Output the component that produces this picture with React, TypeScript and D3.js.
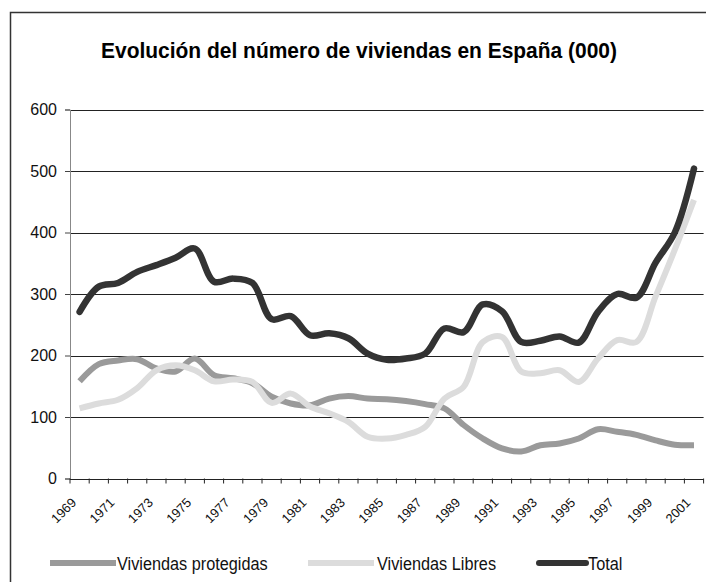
import React, { useEffect, useRef } from "react";
import * as d3 from "d3";

const years = [
  1969, 1970, 1971, 1972, 1973, 1974, 1975, 1976, 1977, 1978, 1979, 1980,
  1981, 1982, 1983, 1984, 1985, 1986, 1987, 1988, 1989, 1990, 1991, 1992,
  1993, 1994, 1995, 1996, 1997, 1998, 1999, 2000, 2001,
];
const protegidas = [
  158, 186, 192, 194, 179, 174, 195, 168, 163, 155, 133, 122, 119, 130, 134,
  130, 129, 126, 121, 114, 87, 65, 49, 44, 54, 57, 65, 80, 76, 71, 62, 55, 54,
];
const libres = [
  114, 122, 128, 147, 176, 184, 176, 158, 161, 157, 123, 138, 117, 106, 92, 68,
  65, 71, 84, 130, 149, 222, 230, 174, 171, 176, 157, 195, 225, 222, 296, 372,
  453,
];
const total = [
  271, 312, 318, 336, 347, 359, 374, 320, 325, 318, 259, 264, 233, 236, 228,
  203, 193, 195, 203, 244, 238, 283, 272, 222, 224, 231, 221, 271, 300, 294,
  351, 400, 504,
];
const yTicks = [0, 100, 200, 300, 400, 500, 600];

const series = [
  { name: "Viviendas protegidas", values: protegidas, color: "#9a9a9a", width: 6 },
  { name: "Viviendas Libres", values: libres, color: "#dcdcdc", width: 6 },
  { name: "Total", values: total, color: "#333333", width: 6.5 },
];

const font = "Liberation Sans, Arial, sans-serif";

const App = () => {
  const ref = useRef<SVGSVGElement>(null);

  useEffect(() => {
    const width = 706;
    const height = 582;
    const left = 70;
    const right = 703.6;
    const top = 109.5;
    const bottom = 478.5;

    const svg = d3.select(ref.current).attr("width", width).attr("height", height);
    svg.selectAll("*").remove();

    const x = d3.scaleBand<number>().domain(years).range([left, right]).padding(0);
    const cx = (yr: number) => (x(yr) as number) + x.bandwidth() / 2;
    const y = d3.scaleLinear().domain([0, 600]).range([bottom, top]);

    // frame
    svg.append("rect")
      .attr("x", 10.5).attr("y", 12.5)
      .attr("width", 760).attr("height", 640)
      .attr("fill", "#fff").attr("stroke", "#333").attr("stroke-width", 1.5);

    svg.append("text")
      .attr("x", 101).attr("y", 58)
      .attr("font-family", font)
      .attr("font-weight", "bold")
      .attr("font-size", 22)
      .attr("textLength", 516)
      .attr("lengthAdjust", "spacingAndGlyphs")
      .text("Evolución del número de viviendas en España (000)");

    // gridlines
    svg.append("g")
      .selectAll("line")
      .data(yTicks.filter((t) => t > 0))
      .enter()
      .append("line")
      .attr("x1", left).attr("x2", right)
      .attr("y1", (d) => Math.round(y(d)) + 0.5)
      .attr("y2", (d) => Math.round(y(d)) + 0.5)
      .attr("stroke", "#222").attr("stroke-width", 1);

    // y axis
    const yAxis = svg.append("g")
      .attr("transform", `translate(${left},0)`)
      .call(d3.axisLeft(y).tickValues(yTicks).tickSize(5).tickPadding(8));
    yAxis.select(".domain").attr("stroke", "#888");
    yAxis.selectAll(".tick line").attr("stroke", "#444");
    yAxis.selectAll("text")
      .attr("font-family", font)
      .attr("font-size", 16)
      .attr("fill", "#111");

    // x axis
    const boundaries = years.map((yr) => x(yr) as number).concat([right]);
    const xg = svg.append("g");
    xg.append("line")
      .attr("x1", left).attr("x2", right)
      .attr("y1", Math.round(bottom) + 0.5).attr("y2", Math.round(bottom) + 0.5)
      .attr("stroke", "#222");
    xg.selectAll("line.tick")
      .data(boundaries)
      .enter()
      .append("line")
      .attr("class", "tick")
      .attr("x1", (d) => d).attr("x2", (d) => d)
      .attr("y1", bottom).attr("y2", bottom + 5)
      .attr("stroke", "#222");
    xg.selectAll("text")
      .data(years.filter((yr) => (yr - 1969) % 2 === 0))
      .enter()
      .append("text")
      .attr("transform", (d) => `translate(${cx(d) - 2.6},${bottom + 25}) rotate(-45)`)
      .attr("text-anchor", "end")
      .attr("font-family", font)
      .attr("font-size", 13)
      .attr("fill", "#111")
      .text((d) => d);

    // lines
    const line = d3.line<number>()
      .x((_, i) => cx(years[i]))
      .y((d) => y(d))
      .curve(d3.curveCatmullRom.alpha(0.5));

    svg.append("g")
      .selectAll("path")
      .data(series)
      .enter()
      .append("path")
      .attr("d", (s) => line(s.values))
      .attr("fill", "none")
      .attr("stroke", (s) => s.color)
      .attr("stroke-width", (s) => s.width)
      .attr("stroke-linecap", (s) => (s.name === "Total" ? "round" : "butt"))
      .attr("stroke-linejoin", "round");

    // legend (text slightly condensed, like the original)
    const legendItems = [
      { s: series[0], x0: 50, x1: 116, tx: 117 },
      { s: series[1], x0: 308, x1: 374, tx: 377 },
      { s: series[2], x0: 539, x1: 586, tx: 588 },
    ];
    const lg = svg.append("g");
    legendItems.forEach((it) => {
      lg.append("line")
        .attr("x1", it.x0).attr("x2", it.x1)
        .attr("y1", 563).attr("y2", 563)
        .attr("stroke", it.s.color)
        .attr("stroke-width", 6)
        .attr("stroke-linecap", it.s.name === "Total" ? "round" : "butt");
      lg.append("text")
        .attr("transform", `translate(${it.tx},569.5) scale(0.88,1)`)
        .attr("font-family", font)
        .attr("font-size", 18.5)
        .attr("fill", "#111")
        .text(it.s.name);
    });
  }, []);

  return (
    <svg ref={ref} style={{ position: "absolute", left: 0, top: 0 }}></svg>
  );
};

export default App;
